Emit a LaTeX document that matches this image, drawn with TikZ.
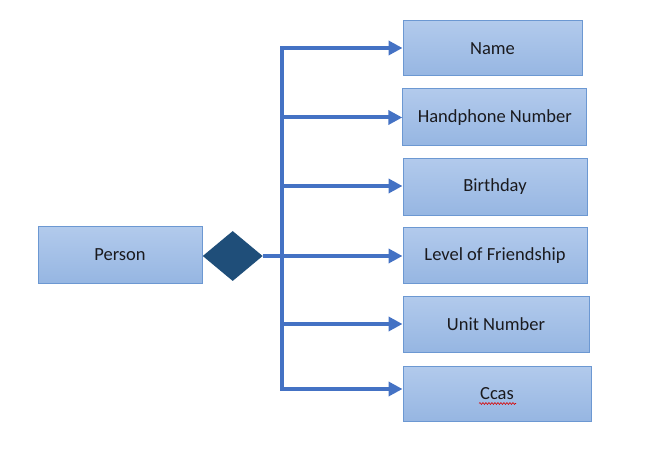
\documentclass[tikz,border=0pt]{standalone}
\usepackage{fontspec}
\setmainfont{Carlito}
\usetikzlibrary{arrows.meta,shapes.geometric,decorations.pathmorphing,calc}
\definecolor{linkblue}{RGB}{68,114,196}
\definecolor{dmdblue}{RGB}{31,78,121}
\definecolor{boxtop}{RGB}{178,202,236}
\definecolor{boxbot}{RGB}{150,182,226}
\definecolor{boxedge}{RGB}{108,152,210}
\definecolor{txt}{RGB}{26,26,30}
\tikzset{
  attr/.style={draw=boxedge, line width=1pt, top color=boxtop, bottom color=boxbot,
    rectangle, inner sep=0pt, text=txt, font=\fontsize{18.5}{20}\selectfont},
  rel/.style={diamond, fill=dmdblue, draw=none, inner sep=0pt},
  trunk/.style={draw=linkblue, line width=4pt, line join=miter},
  arr/.style={trunk, -{Triangle[length=14pt,width=14pt]}}
}
\begin{document}
\begin{tikzpicture}[x=1pt,y=-1pt]
\useasboundingbox (0,0) rectangle (650,454);
\node[attr, minimum width=164pt, minimum height=56pt] (person) at (120,255) {Person};
\node[rel, minimum width=60pt, minimum height=50pt] (rel) at (232.7,256) {};
\node[attr, minimum width=179pt, minimum height=55pt] (name) at (492.5,48.5) {Name};
\node[attr, minimum width=184pt, minimum height=57pt] (phone) at (494.8,117.5) {Handphone Number};
\node[attr, minimum width=184pt, minimum height=57pt] (bday) at (495,187) {Birthday};
\node[attr, minimum width=184pt, minimum height=56pt] (level) at (495,255.5) {Level of Friendship};
\node[attr, minimum width=186pt, minimum height=56pt] (unit) at (496,324) {Unit Number};
\node[attr, minimum width=188pt, minimum height=55pt] (ccas) at (497,393.5) {Ccas};
\coordinate (ttop) at (282,48);
\coordinate (tbot) at (282,389);
\draw[arr] (tbot) -- (ttop) -- (ttop -| name.west);
\draw[arr] (ttop) -- (tbot) -- (tbot -| ccas.west);
\draw[arr] (282,117.5) -- (282,117.5 -| phone.west);
\draw[arr] (282,186) -- (282,186 -| bday.west);
\draw[arr] (rel.east) -- (rel.east -| level.west);
\draw[arr] (282,324) -- (282,324 -| unit.west);
\draw[red!85!black, line width=0.6pt, decorate, decoration={snake, amplitude=0.9pt, segment length=3pt}]
  ($(ccas.center)+(-18,10)$) -- ($(ccas.center)+(19,10)$);
\end{tikzpicture}
\end{document}
